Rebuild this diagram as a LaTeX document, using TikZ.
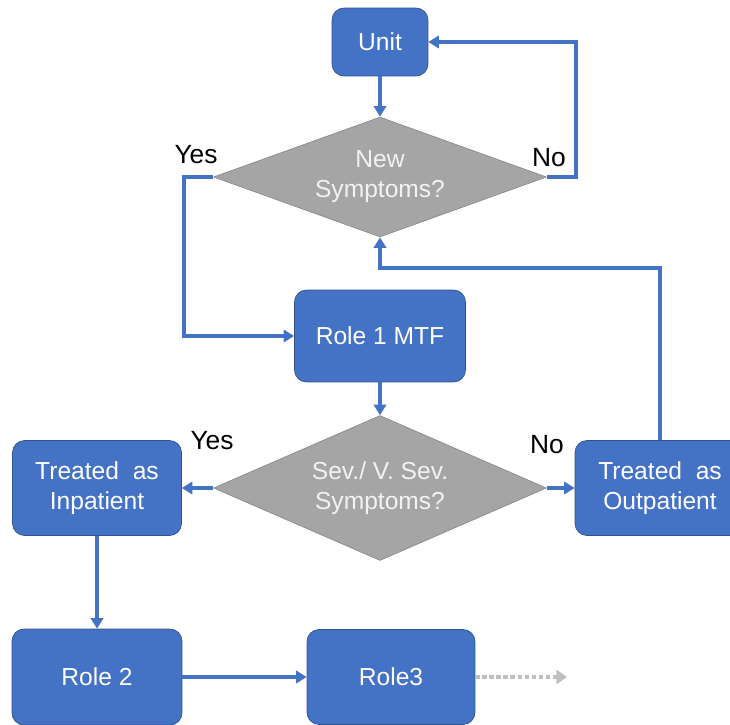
\documentclass[tikz,border=0pt]{standalone}
\usepackage{fontspec}
\setmainfont{Liberation Sans}
\usepackage{xcolor}
\usepackage{tikz}
\usetikzlibrary{shapes,arrows,positioning,calc,arrows.meta}

\definecolor{boxblue}{HTML}{4472C4}
\definecolor{boxedge}{HTML}{2F528F}
\definecolor{decgray}{HTML}{A5A5A5}
\definecolor{decedge}{HTML}{8C8C8C}
\definecolor{dotgray}{HTML}{BFBFBF}

\tikzset{
    stepbox/.style={draw=boxedge, fill=boxblue, rounded corners=0.24cm, text=white,
        align=center, inner sep=2pt, font=\fontsize{14}{17}\selectfont},
    decision/.style={diamond, draw=decedge, fill=decgray, text=white!95!black, inner sep=0pt,
        shape aspect=2.8, align=center, font=\fontsize{14}{17}\selectfont},
    flow/.style={draw=boxblue, line width=2pt, -{Triangle[width=7pt,length=6pt]}},
    answer/.style={font=\fontsize{15}{18}\selectfont, text=black}
}

\begin{document}
\begin{tikzpicture}[x=0.02cm, y=-0.02cm]
    \useasboundingbox (0,0) rectangle (730,724);

    % boxes
    \node[stepbox, minimum width=1.92cm, minimum height=1.36cm] (unit) at (380,42) {Unit};
    \node[decision, minimum width=6.66cm, minimum height=2.4cm] (newsym) at (380,177) {New\\Symptoms?};
    \node[stepbox, minimum width=3.42cm, minimum height=1.84cm] (role1) at (380,336) {Role 1 MTF};
    \node[decision, shape aspect=2.3, minimum width=6.66cm, minimum height=2.9cm] (sevsym) at (380,488) {Sev./ V. Sev.\\Symptoms?};
    \node[stepbox, minimum width=3.38cm, minimum height=1.9cm] (inpat) at (97,488) {Treated\ \ as\\Inpatient};
    \node[stepbox, minimum width=3.4cm, minimum height=1.9cm] (outpat) at (660,488) {Treated\ \ as\\Outpatient};
    \node[stepbox, minimum width=3.4cm, minimum height=1.92cm] (role2) at (97,677) {Role 2};
    \node[stepbox, minimum width=3.36cm, minimum height=1.9cm] (role3) at (391,677) {Role3};
    \coordinate (onward) at (567,677);

    % labels
    \node[answer] (yes1) at (196,155) {Yes};
    \node[answer] (no1) at (549,158) {No};
    \node[answer] (yes2) at (212,441) {Yes};
    \node[answer] (no2) at (547,445) {No};

    % connectors
    \draw[flow] (unit) -- (newsym);
    \draw[flow] (newsym.east) -- ++(29,0) |- (unit.east);
    \draw[flow] (newsym.west) -- ++(-29,0) |- (role1.west);
    \draw[flow] (role1) -- (sevsym);
    \draw[flow] (sevsym.west) -- (inpat.east);
    \draw[flow] (sevsym.east) -- (outpat.west);
    \draw[flow] (outpat.north) -- ++(0,-172) -| (newsym.south);
    \draw[flow] (inpat.south) -- (role2.north);
    \draw[flow] (role2.east) -- (role3.west);
    \draw[draw=dotgray, line width=2.5pt, dash pattern=on 2.5pt off 1.5pt,
        -{Triangle[width=8pt,length=6pt]}] (role3.east) -- (onward);
\end{tikzpicture}
\end{document}
